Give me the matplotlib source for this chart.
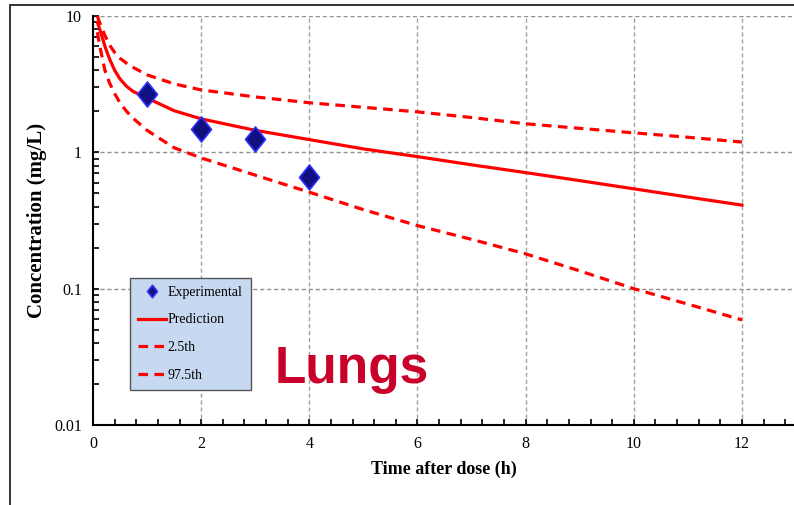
import numpy as np
import matplotlib.pyplot as plt
from matplotlib.patches import Rectangle
from matplotlib.path import Path

# observed data (lungs)
t_exp = [1, 2, 3, 4]
c_exp = [2.70, 1.49, 1.26, 0.66]

# model prediction and percentile curves
t_model = [0.08, 0.13, 0.22, 0.31, 0.4, 0.5, 0.62, 0.74, 1.0, 1.5, 2, 3, 4, 5, 6, 7, 8, 9, 10, 11, 12]
c_pred = [9.0, 7.9, 6.0, 4.8, 4.0, 3.45, 3.05, 2.8, 2.5, 2.02, 1.76, 1.45, 1.24, 1.06, 0.93, 0.81, 0.71, 0.62, 0.54, 0.47, 0.41]
c_upper = [10.0, 8.8, 7.2, 6.1, 5.4, 4.9, 4.5, 4.2, 3.7, 3.18, 2.87, 2.55, 2.31, 2.14, 1.98, 1.80, 1.62, 1.50, 1.39, 1.29, 1.19]
c_lower = [7.6, 5.9, 4.0, 3.2, 2.7, 2.3, 2.0, 1.78, 1.45, 1.08, 0.91, 0.68, 0.51, 0.38, 0.29, 0.23, 0.18, 0.135, 0.10, 0.077, 0.059]

legend_labels = ['Experimental', 'Prediction', '2.5th', '97.5th']

serif = 'Liberation Serif'
red = '#ff0000'

fig = plt.figure(figsize=(7.94, 5.05), dpi=100)
ax = fig.add_axes([93 / 794, 1 - 425 / 505, 1 - 93 / 794, (425 - 16) / 505])

# outer frame of the slide picture
fig.patches.append(Rectangle((10 / 794, -0.1), 1.2, 1.1 - 5 / 505, transform=fig.transFigure,
                             fill=False, edgecolor='#333333', lw=1.4, zorder=0))

dash = (3.0, 2.0)
ax.plot(t_model, c_pred, color=red, lw=2.3, label=legend_labels[1], zorder=3)
ax.plot(t_model, c_lower, color=red, lw=2.3, ls=(0, dash), label=legend_labels[2], zorder=3)
ax.plot(t_model, c_upper, color=red, lw=2.3, ls=(0, dash), label=legend_labels[3], zorder=3)

diamond = Path([(-0.8, 0), (0, 1), (0.8, 0), (0, -1), (-0.8, 0)],
               [Path.MOVETO, Path.LINETO, Path.LINETO, Path.LINETO, Path.CLOSEPOLY])
ax.plot(t_exp, c_exp, ls='none', marker=diamond, ms=18, mfc='#101080', mec='#3030ff',
        mew=1.2, label=legend_labels[0], zorder=4)

ax.set_yscale('log')
ax.set_ylim(0.01, 10)
ax.set_xlim(0, (794 - 93) / 54.08)
ax.set_xticks([0, 2, 4, 6, 8, 10, 12])
ax.set_xticks(np.arange(0, 13, 0.4), minor=True)
ax.set_yticks([0.01, 0.1, 1, 10])
ax.set_yticklabels(['0.01', '0.1', '1', '10'])
ax.tick_params(which='both', direction='in', width=1.2, length=4, labelsize=11.5, pad=8)
for lbl in ax.get_xticklabels() + ax.get_yticklabels():
    lbl.set_family(serif)

for v in [2, 4, 6, 8, 10, 12]:
    ax.axvline(v, color='#a0a0a0', lw=1.0, ls=(0, (3, 2)), zorder=1)
for v in [0.1, 1, 10]:
    ax.axhline(v, color='#909090', lw=1.0, ls=(0, (3, 2)), zorder=1)

ax.spines['top'].set_visible(False)
ax.spines['right'].set_visible(False)
ax.spines['left'].set_linewidth(1.5)
ax.spines['bottom'].set_linewidth(1.5)

ax.set_xlabel('Time after dose (h)', family=serif, fontweight='bold', fontsize=13, labelpad=6)
ax.set_ylabel('Concentration (mg/L)', family=serif, fontweight='bold', fontsize=15, labelpad=5)

handles, labels = ax.get_legend_handles_labels()
order = [3, 0, 1, 2]
leg = ax.legend([handles[i] for i in order], [labels[i] for i in order],
                loc='lower left', bbox_to_anchor=((130 - 93) / 701, (425 - 390) / 409),
                borderaxespad=0, prop={'family': serif, 'size': 10}, frameon=True,
                fancybox=False, handlelength=2.0, handletextpad=0.1, labelspacing=1.05,
                borderpad=0.6, markerscale=0.5)
leg.get_frame().set_facecolor('#c6d9f1')
leg.get_frame().set_edgecolor('#555555')
leg.get_frame().set_alpha(1)
leg.get_frame().set_linewidth(1.0)

fig.text(275 / 794, 1 - 383 / 505, 'Lungs', family='Liberation Sans', fontweight='bold',
         fontsize=37, color='#c8002a', ha='left', va='baseline')

fig.savefig('out.png', dpi=100)
